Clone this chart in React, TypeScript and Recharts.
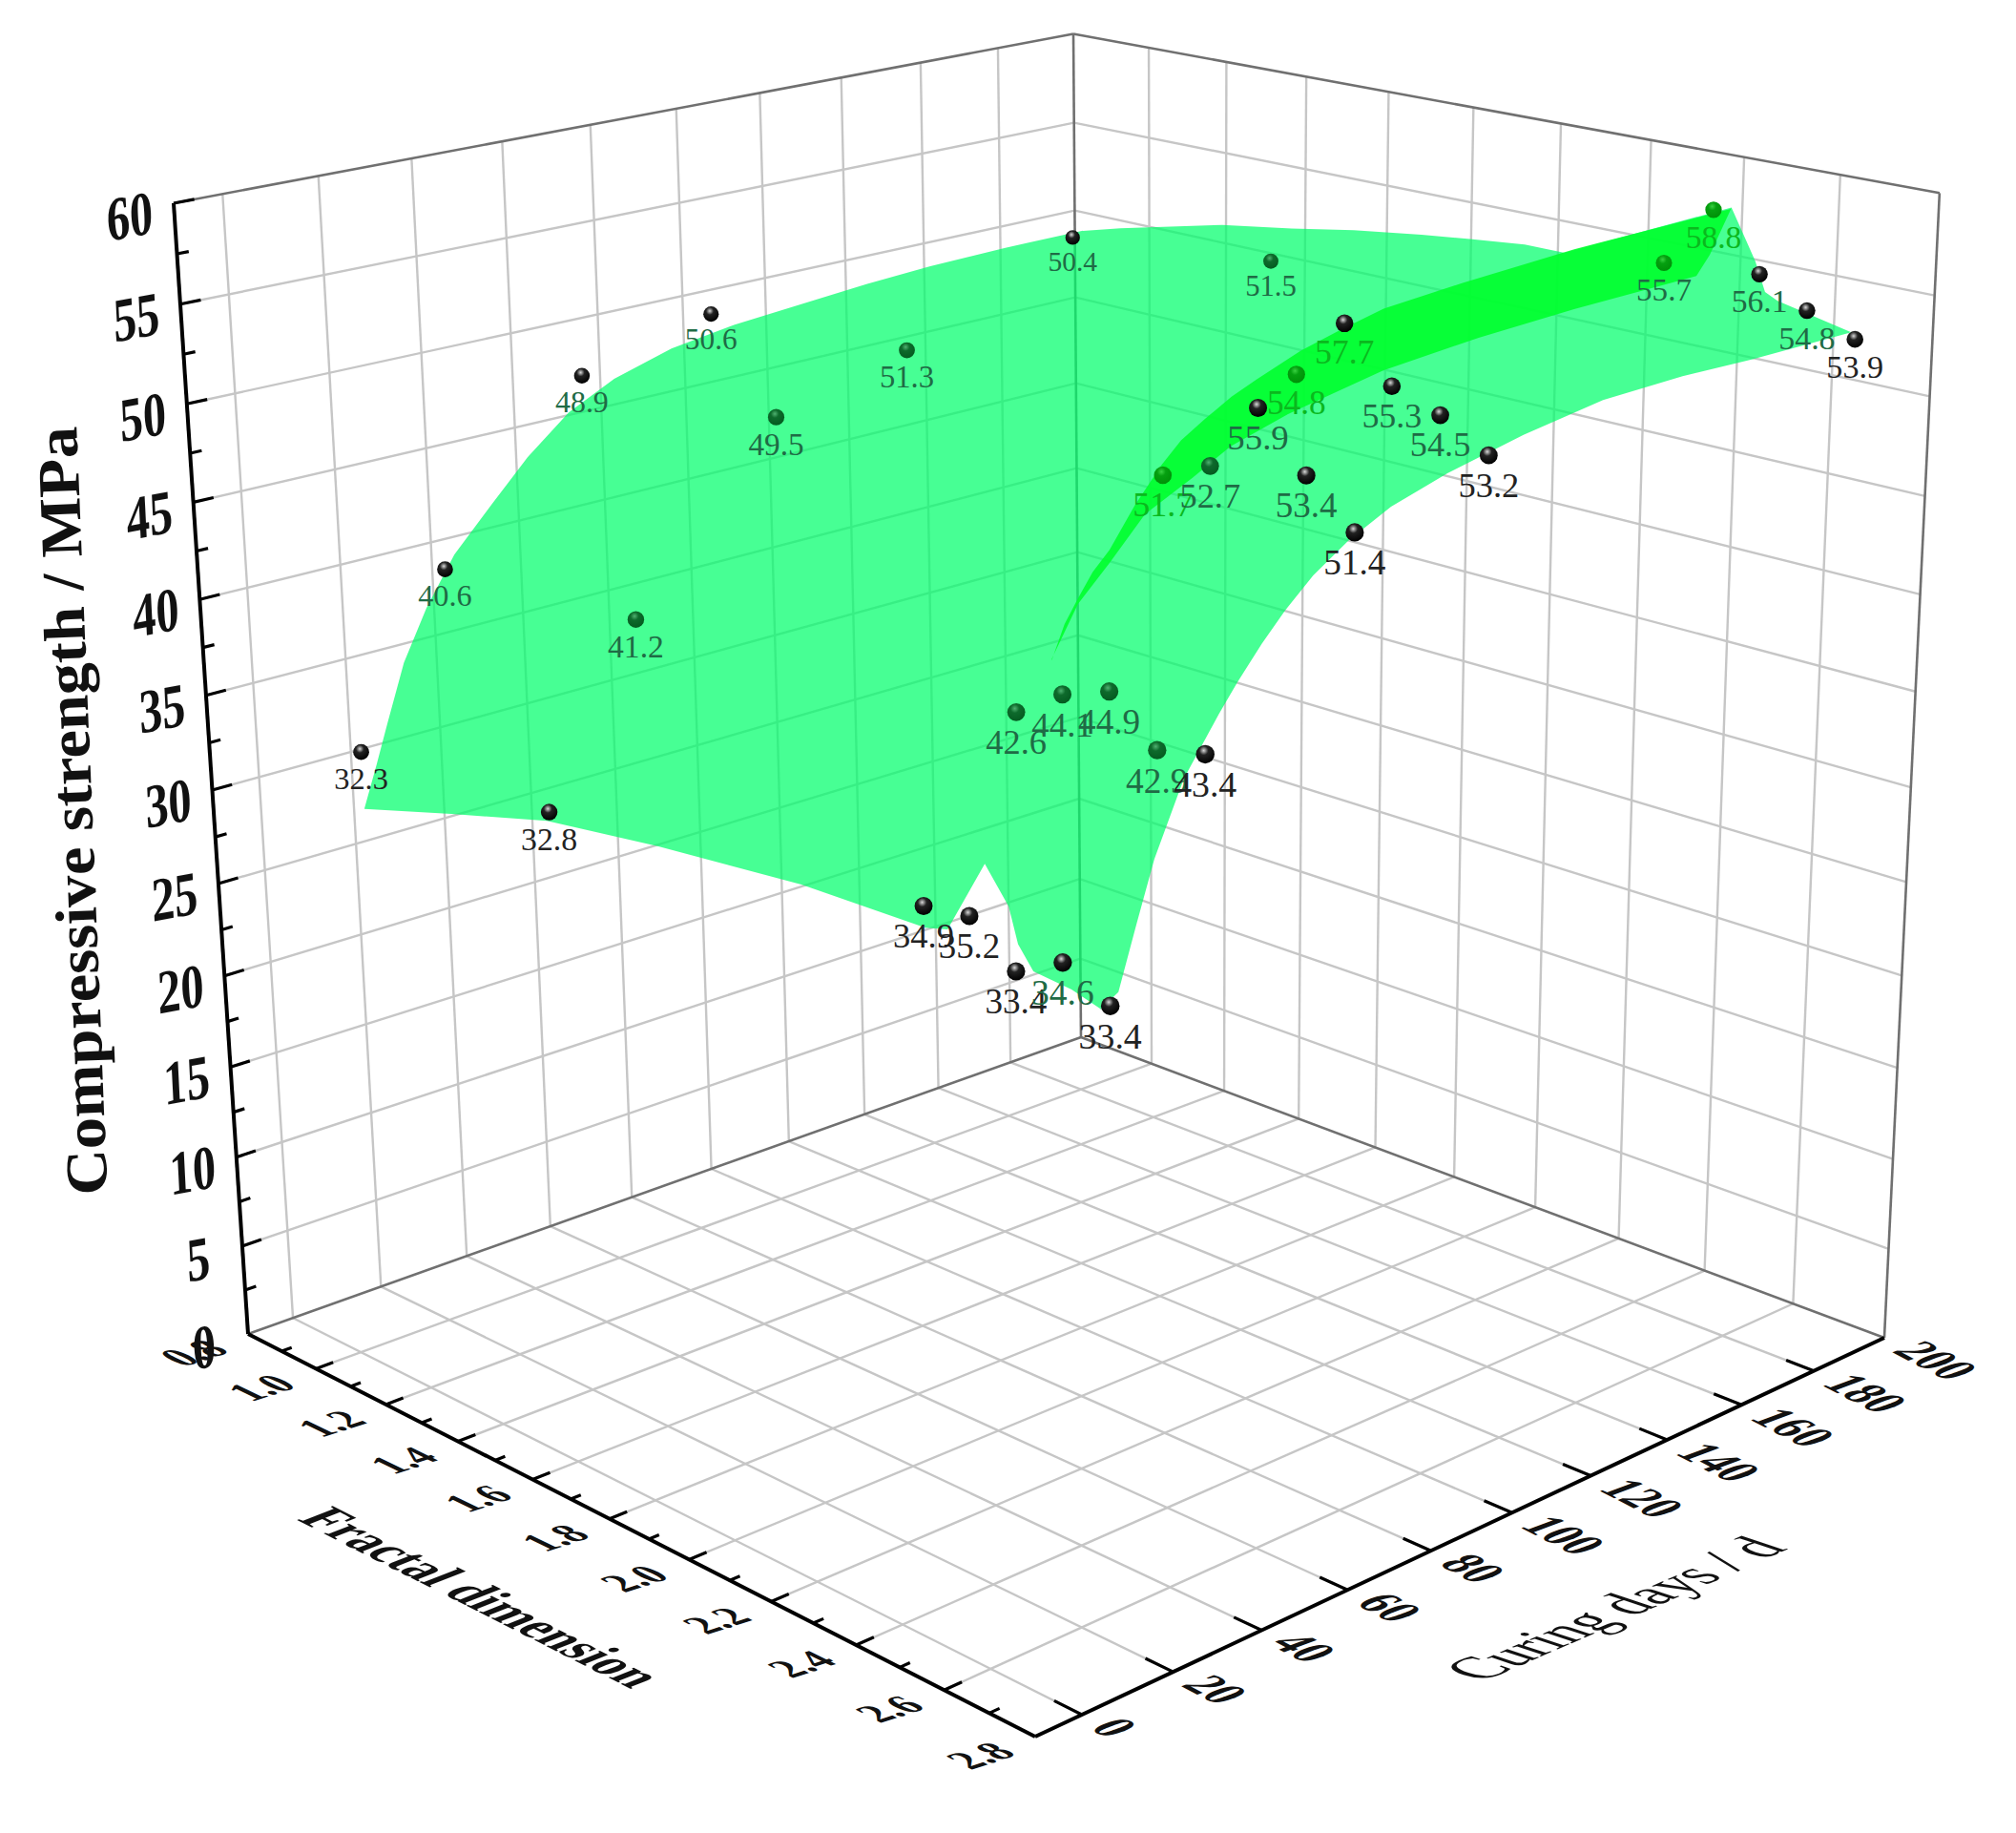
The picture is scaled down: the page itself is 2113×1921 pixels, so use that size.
import { ScatterChart, Scatter, XAxis, YAxis } from "recharts";

// measured points: one row per curing age, one column per fractal dimension
const fractalValues = [1.005, 1.51, 2.404, 2.504, 2.603, 2.702, 2.8];
const curingValues = [7, 27, 59, 89, 179];
const strength7d = [32.3, 32.8, 34.9, 35.2, 33.4, 34.6, 33.4];
const strength28d = [40.6, 41.2, 42.6, 44.1, 44.9, 42.9, 43.4];
const strength60d = [48.9, 49.5, 51.7, 52.7, 55.9, 53.4, 51.4];
const strength90d = [50.6, 51.3, 54.8, 57.7, 55.3, 54.5, 53.2];
const strength180d = [50.4, 51.5, 55.7, 58.8, 56.1, 54.8, 53.9];
const strengthRows = [strength7d, strength28d, strength60d, strength90d, strength180d];

// fitted surface, read along its edges
const lowFractalEdge = 1.02;
const lowFractalDays = [5.9, 9, 11.8, 16, 21.4, 28, 36.6, 45, 54.5, 65, 78.3, 93, 109.1, 125, 140.9, 160, 180.2];
const lowFractalStrength = [29.5, 31.6, 33.6, 36.5, 39, 41.4, 43.5, 45.5, 47.3, 48.5, 49.4, 49.9, 50.2, 50.5, 50.7, 50.8, 50.8];
const highFractalEdge = 2.8;
const highFractalDays = [4.9, 8.7, 12.5, 16.3, 22.5, 29.8, 33.8, 39, 44, 50, 57.6, 67, 79.6, 97, 115.7, 135, 152.5, 178.4];
const highFractalStrength = [33.4, 33.9, 36.7, 39.4, 42.6, 45, 46.2, 47.6, 48.8, 50, 51.1, 52.1, 52.9, 53.7, 54.3, 54.4, 54.3, 54.3];
const lateEdgeDays = 180;
const lateEdgeFractal = [1.022, 1.12, 1.231, 1.38, 1.551, 1.7, 1.859, 1.97, 2.093, 2.182, 2.533, 2.586, 2.608, 2.634, 2.788];
const lateEdgeStrength = [50.8, 51.4, 52, 52.8, 53.4, 54, 54.5, 54.8, 55.1, 55.1, 59, 56.6, 55.2, 54.9, 54.1];
const earlyEdgeDays = 7;
const earlyEdgeFractal = [2.779, 2.72, 2.64, 2.608, 2.589, 2.539, 2.456, 2.407, 2.127, 1.785, 1.503, 1.248, 1.005];
const earlyEdgeStrength = [33.1, 33.5, 33.7, 34.7, 36.3, 37.9, 34.2, 33.9, 33.8, 33.1, 32.3, 30.8, 29.3];

// the fold of the surface near fractal dimension 2.4 - 2.5
const foldUpperFractal = 2.52;
const foldUpperDays = [23.2, 26, 28.9, 32, 35.6, 41, 46.7, 51, 56.2, 62, 67.5, 77.3, 86, 96.2, 114.7, 141.7, 181.7];
const foldUpperStrength = [46, 47.5, 48.5, 49.5, 50.3, 52, 53.5, 54.4, 55.1, 55.8, 56.3, 57.1, 57.6, 58.1, 58.4, 58.7, 58.8];
const foldLowerFractal = 2.42;
const foldLowerDays = [33.1, 38.8, 45.7, 53.4, 63.9, 72.4, 85.4, 107.5, 130.4, 154.1, 185.7, 189.1, 194.5];
const foldLowerStrength = [44.8, 47, 48.5, 50.3, 51.4, 52.4, 53.2, 54.1, 54.5, 54.7, 54.8, 55.7, 57.8];

// axis ticks
const fractalMajor = [0.8, 1.0, 1.2, 1.4, 1.6, 1.8, 2.0, 2.2, 2.4, 2.6, 2.8];
const fractalLabels = ["0.8", "1.0", "1.2", "1.4", "1.6", "1.8", "2.0", "2.2", "2.4", "2.6", "2.8"];
const curingTicks = [0, 20, 40, 60, 80, 100, 120, 140, 160, 180, 200];
const strengthTicks = [0, 5, 10, 15, 20, 25, 30, 35, 40, 45, 50, 55, 60];

const WIDTH = 2113;
const HEIGHT = 1921;
const FRACTAL_MIN = 0.8;
const FRACTAL_MAX = 2.8;
const DAYS_MIN = -10;
const DAYS_MAX = 200;
const STRENGTH_MAX = 60;

// perspective box fitted to the corners of the plot
const project = (fractal: number, days: number, strength: number) => {
  const a = (fractal - FRACTAL_MIN) / (FRACTAL_MAX - FRACTAL_MIN);
  const b = (days - DAYS_MIN) / (DAYS_MAX - DAYS_MIN);
  const c = strength / STRENGTH_MAX;
  const w = 1 - 0.15095 * a + 0.13937 * b - 0.07306 * c;
  return {
    x: (260 + 661.2 * a + 1030.9 * b - 91.3 * c) / w,
    y: (1398 + 147.3 * a - 159.5 * b - 1200.6 * c) / w,
    w,
  };
};

const noMark = () => <g />;
const segment = (p: number[], q: number[]) => [project(p[0], p[1], p[2]), project(q[0], q[1], q[2])];

const innerFractal = fractalMajor.slice(1, -1);
const innerCuring = curingTicks.slice(0, -1);
const innerStrength = strengthTicks.slice(1, -1);

const gridLines = [
  // floor
  ...innerFractal.map((f) => segment([f, DAYS_MIN, 0], [f, DAYS_MAX, 0])),
  ...innerCuring.map((d) => segment([FRACTAL_MIN, d, 0], [FRACTAL_MAX, d, 0])),
  // left wall
  ...innerCuring.map((d) => segment([FRACTAL_MIN, d, 0], [FRACTAL_MIN, d, STRENGTH_MAX])),
  ...innerStrength.map((s) => segment([FRACTAL_MIN, DAYS_MIN, s], [FRACTAL_MIN, DAYS_MAX, s])),
  // right wall
  ...innerFractal.map((f) => segment([f, DAYS_MAX, 0], [f, DAYS_MAX, STRENGTH_MAX])),
  ...innerStrength.map((s) => segment([FRACTAL_MIN, DAYS_MAX, s], [FRACTAL_MAX, DAYS_MAX, s])),
];

const frameLines = [
  segment([FRACTAL_MIN, DAYS_MIN, 0], [FRACTAL_MIN, DAYS_MAX, 0]),
  segment([FRACTAL_MIN, DAYS_MAX, 0], [FRACTAL_MAX, DAYS_MAX, 0]),
  segment([FRACTAL_MIN, DAYS_MAX, 0], [FRACTAL_MIN, DAYS_MAX, STRENGTH_MAX]),
  segment([FRACTAL_MAX, DAYS_MAX, 0], [FRACTAL_MAX, DAYS_MAX, STRENGTH_MAX]),
  segment([FRACTAL_MIN, DAYS_MIN, STRENGTH_MAX], [FRACTAL_MIN, DAYS_MAX, STRENGTH_MAX]),
  segment([FRACTAL_MIN, DAYS_MAX, STRENGTH_MAX], [FRACTAL_MAX, DAYS_MAX, STRENGTH_MAX]),
];

const axisLines = [
  segment([FRACTAL_MIN, DAYS_MIN, 0], [FRACTAL_MAX, DAYS_MIN, 0]),
  segment([FRACTAL_MAX, DAYS_MIN, 0], [FRACTAL_MAX, DAYS_MAX, 0]),
  segment([FRACTAL_MIN, DAYS_MIN, 0], [FRACTAL_MIN, DAYS_MIN, STRENGTH_MAX]),
];

const tickLines = [
  ...fractalMajor.slice(1, -1).map((f) => segment([f, DAYS_MIN, 0], [f, DAYS_MIN + 3.8, 0])),
  ...fractalMajor.slice(0, -1).map((f) => segment([f + 0.1, DAYS_MIN, 0], [f + 0.1, DAYS_MIN + 2.2, 0])),
  ...curingTicks.slice(0, -1).map((d) => segment([FRACTAL_MAX, d, 0], [FRACTAL_MAX - 0.06, d, 0])),
  ...strengthTicks.slice(1).map((s) => segment([FRACTAL_MIN, DAYS_MIN, s], [FRACTAL_MIN, DAYS_MIN + 4.2, s])),
  ...strengthTicks.slice(0, -1).map((s) => segment([FRACTAL_MIN, DAYS_MIN, s + 2.5], [FRACTAL_MIN, DAYS_MIN + 2.4, s + 2.5])),
];

const surfaceOutline = [
  ...lowFractalDays.map((d, i) => project(lowFractalEdge, d, lowFractalStrength[i])),
  ...lateEdgeFractal.map((f, i) => project(f, lateEdgeDays, lateEdgeStrength[i])),
  ...highFractalDays.map((d, i) => project(highFractalEdge, d, highFractalStrength[i])).reverse(),
  ...earlyEdgeFractal.map((f, i) => project(f, earlyEdgeDays, earlyEdgeStrength[i])),
];

const foldBand = [
  ...foldUpperDays.map((d, i) => project(foldUpperFractal, d, foldUpperStrength[i])),
  ...foldLowerDays.map((d, i) => project(foldLowerFractal, d, foldLowerStrength[i])).reverse(),
];

// which marks sit behind the surface and how much of it tints them
const greenSpheres = ["1-1", "1-2", "1-3", "1-4", "1-5", "2-1", "2-3", "3-1", "4-1"];
const brightSpheres = ["2-2", "3-2", "4-2", "4-3"];
const brightTexts = ["2-2", "3-2", "3-3", "4-3"];
const greenTexts = ["0-5", "1-0", "1-1", "1-2", "1-3", "1-4", "1-5", "2-0", "2-1", "2-3", "2-4", "2-5", "3-0", "3-1", "3-4", "3-5", "4-0", "4-1", "4-2", "4-4", "4-5"];

const measuredPoints = strengthRows.flatMap((row, r) =>
  row.map((s, c) => {
    const key = `${r}-${c}`;
    return {
      ...project(fractalValues[c], curingValues[r], s),
      label: s.toFixed(1),
      sphere: brightSpheres.includes(key) ? "bright" : greenSpheres.includes(key) ? "green" : "black",
      color: brightTexts.includes(key) ? "#0bb81e" : greenTexts.includes(key) ? "#1f6b45" : "#222222",
    };
  })
);

const fractalTickLabels = fractalMajor.map((f, i) => ({ ...project(f, DAYS_MIN, 0), label: fractalLabels[i] }));
const curingTickLabels = curingTicks.map((d) => ({ ...project(FRACTAL_MAX, d, 0), label: String(d) }));
const strengthTickLabels = strengthTicks.map((s) => ({ ...project(FRACTAL_MIN, DAYS_MIN, s), label: String(s) }));

const SERIF = "'Liberation Serif', serif";

const PointMark = (props: any) => {
  const { cx, cy, payload } = props;
  const r = 8 / payload.w;
  return (
    <g>
      <circle cx={cx} cy={cy} r={r} fill={`url(#sphere-${payload.sphere})`} />
      <text x={cx} y={cy + 26 / payload.w} dy="0.35em" textAnchor="middle" fontFamily={SERIF} fontSize={31 / payload.w} fill={payload.color}>
        {payload.label}
      </text>
    </g>
  );
};

const FractalTick = (props: any) => {
  const { cx, cy, payload } = props;
  return (
    <text transform={`matrix(1 -0.32 1.07 0.52 ${cx - 57} ${cy + 20})`} dy="0.33em" textAnchor="middle" fontFamily={SERIF} fontSize={40} fontWeight="bold" fill="#111">
      {payload.label}
    </text>
  );
};

const CuringTick = (props: any) => {
  const { cx, cy, payload } = props;
  return (
    <text transform={`matrix(1 0.52 -1.3 0.48 ${cx + 24} ${cy + 8})`} dy="0.33em" textAnchor="start" fontFamily={SERIF} fontSize={40} fontWeight="bold" fill="#111">
      {payload.label}
    </text>
  );
};

const StrengthTick = (props: any) => {
  const { cx, cy, payload } = props;
  return (
    <text transform={`matrix(0.74 -0.14 0.05 1 ${cx - 46} ${cy + 14})`} dy="0.33em" textAnchor="middle" fontFamily={SERIF} fontSize={65} fontWeight="bold" fill="#111">
      {payload.label}
    </text>
  );
};

const strengthTitlePoint = [{ x: 76, y: 850 }];
const fractalTitlePoint = [{ x: 505, y: 1674 }];
const curingTitlePoint = [{ x: 1692, y: 1686 }];

const StrengthTitle = ({ cx, cy }: any) => (
  <text transform={`translate(${cx} ${cy}) rotate(-92.3)`} dy="0.33em" textAnchor="middle" fontFamily={SERIF} fontSize={62} fontWeight="bold" textLength={806} lengthAdjust="spacingAndGlyphs" fill="#111">
    Compressive strength / MPa
  </text>
);

const FractalTitle = ({ cx, cy }: any) => (
  <text transform={`matrix(0.89 0.45 -1.15 0.45 ${cx} ${cy})`} dy="0.33em" textAnchor="middle" fontFamily={SERIF} fontSize={50} fontWeight="bold" textLength={395} lengthAdjust="spacingAndGlyphs" fill="#111">
    Fractal dimension
  </text>
);

const CuringTitle = ({ cx, cy }: any) => (
  <text transform={`matrix(0.92 -0.4 1 0.33 ${cx} ${cy})`} dy="0.33em" textAnchor="middle" fontFamily={SERIF} fontSize={66} textLength={350} lengthAdjust="spacingAndGlyphs" fill="#111">
    Curing days / d
  </text>
);

export default function App() {
  return (
    <div style={{ position: "absolute", left: 0, top: 0, width: WIDTH, height: HEIGHT, background: "#fff" }}>
      <ScatterChart width={WIDTH} height={HEIGHT} margin={{ top: 0, right: 0, bottom: 0, left: 0 }}>
        <defs>
          <radialGradient id="sphere-black" cx="42%" cy="30%" r="70%">
            <stop offset="0%" stopColor="#d8d8d8" />
            <stop offset="35%" stopColor="#222" />
            <stop offset="100%" stopColor="#000" />
          </radialGradient>
          <radialGradient id="sphere-green" cx="42%" cy="30%" r="70%">
            <stop offset="0%" stopColor="#4fb070" />
            <stop offset="35%" stopColor="#0e6a2c" />
            <stop offset="100%" stopColor="#045a20" />
          </radialGradient>
          <radialGradient id="sphere-bright" cx="42%" cy="30%" r="70%">
            <stop offset="0%" stopColor="#38d040" />
            <stop offset="35%" stopColor="#05a010" />
            <stop offset="100%" stopColor="#009008" />
          </radialGradient>
        </defs>
        <XAxis type="number" dataKey="x" domain={[0, WIDTH]} hide />
        <YAxis type="number" dataKey="y" domain={[0, HEIGHT]} reversed hide />

        {gridLines.map((pts, i) => (
          <Scatter key={`grid-${i}`} data={pts} shape={noMark} line={{ stroke: "#c6c6c6", strokeWidth: 2.4 }} isAnimationActive={false} />
        ))}
        {frameLines.map((pts, i) => (
          <Scatter key={`frame-${i}`} data={pts} shape={noMark} line={{ stroke: "#707070", strokeWidth: 2.6 }} isAnimationActive={false} />
        ))}

        <Scatter data={surfaceOutline} shape={noMark} line={{ fill: "#00ff6b", fillOpacity: 0.72, stroke: "none" }} isAnimationActive={false} />
        <Scatter data={foldBand} shape={noMark} line={{ fill: "#00ff2c", fillOpacity: 0.9, stroke: "none" }} isAnimationActive={false} />

        {axisLines.map((pts, i) => (
          <Scatter key={`axis-${i}`} data={pts} shape={noMark} line={{ stroke: "#000", strokeWidth: 4 }} isAnimationActive={false} />
        ))}
        {tickLines.map((pts, i) => (
          <Scatter key={`tick-${i}`} data={pts} shape={noMark} line={{ stroke: "#000", strokeWidth: 3.2 }} isAnimationActive={false} />
        ))}

        <Scatter data={measuredPoints} shape={PointMark} isAnimationActive={false} />
        <Scatter data={fractalTickLabels} shape={FractalTick} isAnimationActive={false} />
        <Scatter data={curingTickLabels} shape={CuringTick} isAnimationActive={false} />
        <Scatter data={strengthTickLabels} shape={StrengthTick} isAnimationActive={false} />
        <Scatter data={strengthTitlePoint} shape={StrengthTitle} isAnimationActive={false} />
        <Scatter data={fractalTitlePoint} shape={FractalTitle} isAnimationActive={false} />
        <Scatter data={curingTitlePoint} shape={CuringTitle} isAnimationActive={false} />
      </ScatterChart>
    </div>
  );
}
